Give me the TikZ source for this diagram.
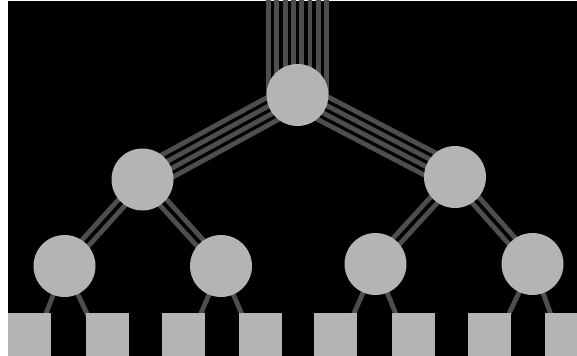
\documentclass[tikz,border=0pt]{standalone}
\usetikzlibrary{calc}
\pgfdeclarelayer{bg}
\pgfdeclarelayer{edges}
\pgfsetlayers{bg,edges,main}
\definecolor{nodegray}{HTML}{B4B4B4}
\definecolor{linkgray}{HTML}{4E4E4E}
\newcommand\fatlink[3]{\foreach \o in {#3}{\draw[link] ($(#1)!\o!90:(#2)$) -- ($(#2)!\o!-90:(#1)$);}}
\begin{document}
\begin{tikzpicture}[x=0.75pt,y=-0.75pt,
  switch/.style={circle,fill=nodegray,inner sep=0pt,minimum size=46.5pt},
  host/.style={rectangle,fill=nodegray,inner sep=0pt,minimum width=32.25pt,minimum height=64.5pt},
  link/.style={draw=linkgray,line width=3.6pt}]
\useasboundingbox (0,0) rectangle (577,356);
\begin{pgfonlayer}{bg}
\fill[white] (0,0) rectangle (577,356);
\fill[black] (8,1) rectangle (577,356);
\end{pgfonlayer}
\begin{scope}
\clip (8,1) rectangle (577,356);
% nodes
\node[switch] (r) at (297.5,95) {};
\node[switch] (a) at (142.5,179.5) {};
\node[switch] (b) at (455,177) {};
\node[switch] (a1) at (64.5,266) {};
\node[switch] (a2) at (221,266) {};
\node[switch] (b1) at (375.5,264) {};
\node[switch] (b2) at (532.5,264) {};
\node[host] (h1) at (29.5,356) {};
\node[host] (h2) at (107,356) {};
\node[host] (h3) at (183,356) {};
\node[host] (h4) at (260,356) {};
\node[host] (h5) at (335.5,356) {};
\node[host] (h6) at (413,356) {};
\node[host] (h7) at (489,356) {};
\node[host] (h8) at (566,356) {};
\coordinate (up) at (297.5,-20);
\begin{pgfonlayer}{edges}
\fatlink{up}{r.center}{-21.7pt,-15.5pt,-9.3pt,-3.1pt,3.1pt,9.3pt,15.5pt,21.7pt}
\fatlink{r.center}{a.center}{-9.3pt,-3.1pt,3.1pt,9.3pt}
\fatlink{r.center}{b.center}{-9.3pt,-3.1pt,3.1pt,9.3pt}
\fatlink{a.center}{a1.center}{-3.3pt,3.3pt}
\fatlink{a.center}{a2.center}{-3.3pt,3.3pt}
\fatlink{b.center}{b1.center}{-3.3pt,3.3pt}
\fatlink{b.center}{b2.center}{-3.3pt,3.3pt}
\draw[link] (a1.center) -- (h1.center);
\draw[link] (a1.center) -- (h2.center);
\draw[link] (a2.center) -- (h3.center);
\draw[link] (a2.center) -- (h4.center);
\draw[link] (b1.center) -- (h5.center);
\draw[link] (b1.center) -- (h6.center);
\draw[link] (b2.center) -- (h7.center);
\draw[link] (b2.center) -- (h8.center);
\end{pgfonlayer}
\end{scope}
\end{tikzpicture}
\end{document}
